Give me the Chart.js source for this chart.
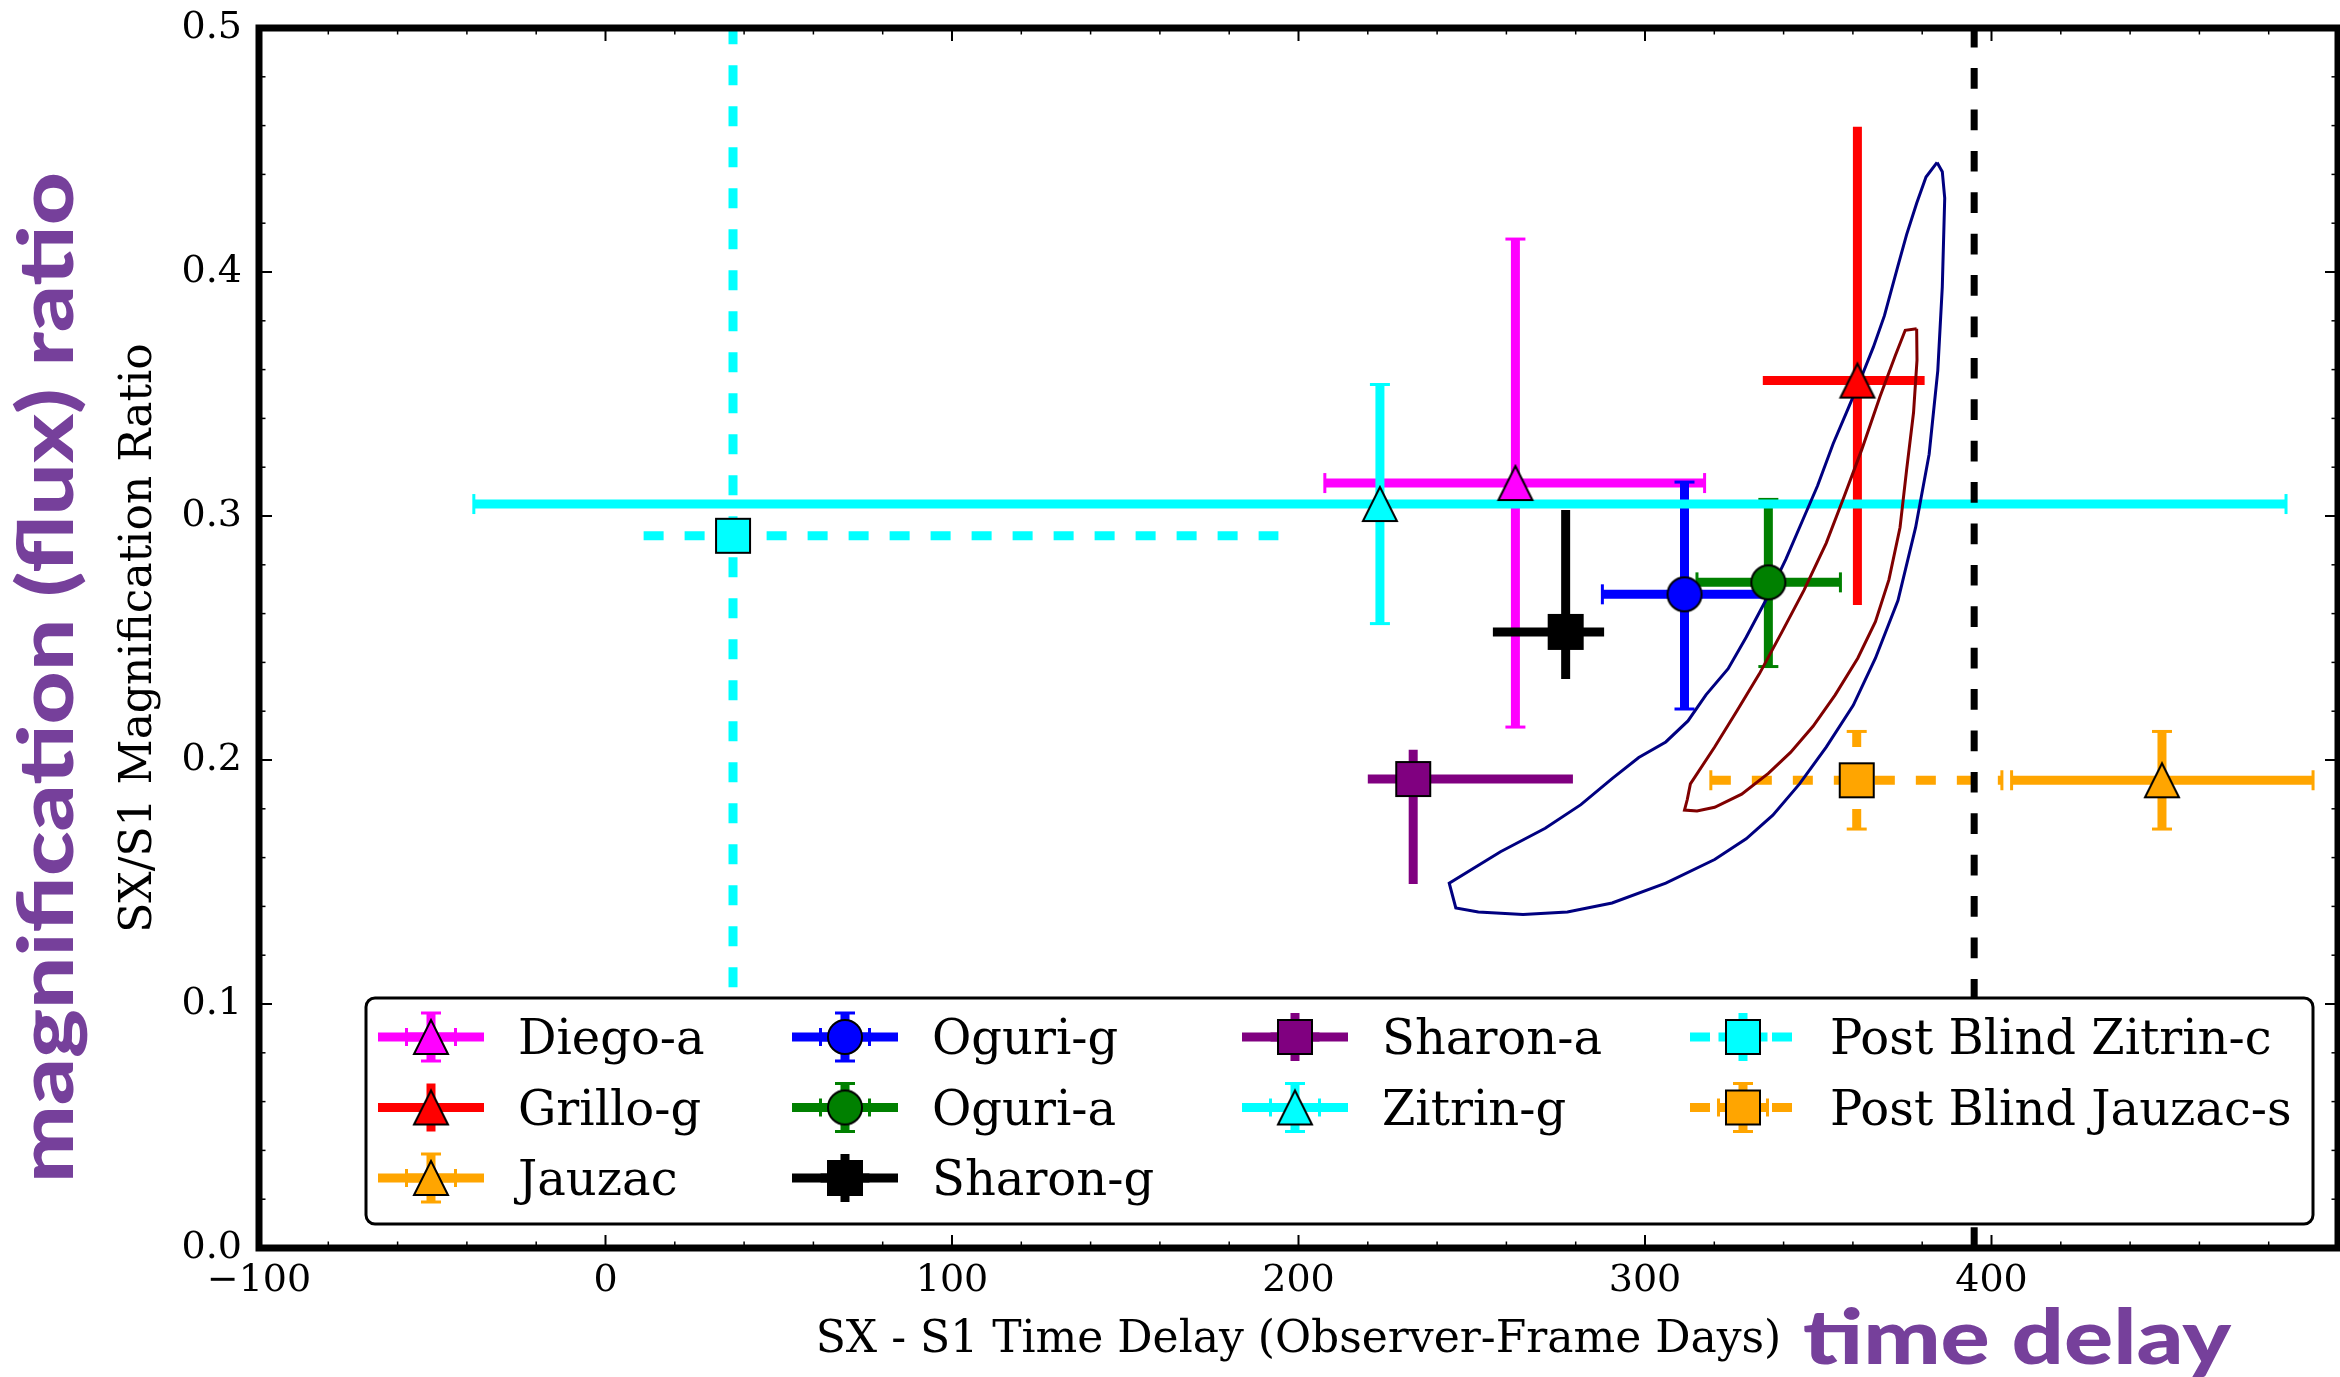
<!DOCTYPE html>
<html>
<head>
<meta charset="utf-8">
<script src="https://cdn.jsdelivr.net/npm/chart.js@4.4.1/dist/chart.umd.min.js"></script>
<style>
  html, body { margin: 0; padding: 0; background: #fff; overflow: hidden; }
  canvas { display: block; }
</style>
</head>
<body>
<canvas id="chart" width="2340" height="1377"></canvas>
<script>
// model predictions: SX - S1 time delay (days) and SX/S1 magnification ratio
const seriesNames = ['Diego-a', 'Grillo-g', 'Jauzac', 'Oguri-g', 'Oguri-a', 'Sharon-g', 'Sharon-a', 'Zitrin-g', 'Post Blind Zitrin-c', 'Post Blind Jauzac-s'];
const timeDelay  = [262.6, 361.3, 449.2, 311.4, 335.6, 277.1, 233.1, 223.5, 36.8, 361.1];
const delayErrLo = [55.0, 27.3, 43.4, 23.7, 20.6, 21.0, 13.1, 261.5, 25.8, 42.1];
const delayErrHi = [54.6, 19.4, 43.6, 23.7, 20.8, 11.1, 46.1, 261.5, 157.4, 41.9];
const magRatio   = [0.3135, 0.3555, 0.1917, 0.2679, 0.2728, 0.2525, 0.1922, 0.3049, 0.2919, 0.1917];
const ratioErrLo = [0.100, 0.092, 0.020, 0.047, 0.0345, 0.0193, 0.043, 0.049, 0.185, 0.020];
const ratioErrHi = [0.100, 0.104, 0.020, 0.046, 0.034, 0.050, 0.012, 0.049, 0.260, 0.020];

// observed delay (vertical dashed line)
const observedDelay = 395;

// measured contours
const outerX = [384.3, 381.1, 378.4, 375.5, 373.0, 369.1, 365.9, 362.6, 358.8, 354.3, 349.8, 345.9, 340.7, 335.6, 329.2, 324.0, 317.6, 312.4, 306.0, 298.2, 290.5, 281.5, 271.2, 258.3, 243.5, 245.4, 251.9, 264.8, 277.6, 290.5, 306.0, 320.1, 329.2, 336.9, 344.6, 352.3, 360.1, 366.5, 373.0, 378.1, 382.0, 384.5, 385.8, 386.5, 385.8];
const outerY = [0.4449, 0.4389, 0.4282, 0.4153, 0.4025, 0.3821, 0.3692, 0.3575, 0.3446, 0.3296, 0.3124, 0.2996, 0.2824, 0.2674, 0.2503, 0.2374, 0.2267, 0.2160, 0.2074, 0.2010, 0.1924, 0.1817, 0.1720, 0.1624, 0.1495, 0.1394, 0.1377, 0.1367, 0.1377, 0.1414, 0.1495, 0.1592, 0.1677, 0.1774, 0.1902, 0.2053, 0.2224, 0.2417, 0.2653, 0.2953, 0.3253, 0.3596, 0.3939, 0.4303, 0.4411];
const innerX = [378.4, 375.1, 372.3, 367.8, 362.6, 357.5, 352.3, 345.9, 339.5, 333.0, 326.6, 320.1, 313.1, 312.2, 311.4, 315.0, 320.1, 327.9, 335.6, 342.0, 348.5, 354.9, 361.4, 366.5, 370.4, 373.6, 375.5, 377.5, 378.5];
const innerY = [0.3767, 0.3761, 0.3660, 0.3489, 0.3274, 0.3081, 0.2889, 0.2696, 0.2524, 0.2353, 0.2203, 0.2053, 0.1902, 0.1838, 0.1795, 0.1791, 0.1806, 0.1860, 0.1945, 0.2031, 0.2138, 0.2267, 0.2417, 0.2567, 0.2739, 0.2953, 0.3189, 0.3424, 0.3639];

const xTicks = [-100, 0, 100, 200, 300, 400];
const yTicks = [0.0, 0.1, 0.2, 0.3, 0.4, 0.5];

// styles
const seriesColors = ['#ff00ff', '#ff0000', '#ffa500', '#0000ff', '#008000', '#000000', '#800080', '#00ffff', '#00ffff', '#ffa500'];
const seriesMarkers = ['^', '^', '^', 'o', 'o', 's', 's', '^', 's', 's'];
const seriesDashed = [false, false, false, false, false, false, false, false, true, true];
const seriesCaps = [true, false, true, true, true, false, false, true, false, true];

const serif = 'DejaVu Serif';
const purple = '#76409b';
const DASH = [20, 21];

function makeMarker(shape, fill) {
  const s = 34;
  const c = document.createElement('canvas');
  c.width = c.height = 40;
  const g = c.getContext('2d');
  const m = 20, h = s / 2;
  g.fillStyle = fill;
  g.strokeStyle = '#000';
  g.lineWidth = 2;
  g.beginPath();
  if (shape === '^') {
    g.moveTo(m, m - h); g.lineTo(m + h, m + h); g.lineTo(m - h, m + h); g.closePath();
  } else if (shape === 'o') {
    g.arc(m, m, h, 0, Math.PI * 2);
  } else {
    g.rect(m - h, m - h, s, s);
  }
  g.fill();
  g.stroke();
  return c;
}
const markerImages = seriesNames.map((n, i) => makeMarker(seriesMarkers[i], seriesColors[i]));

function seg(ctx, x0, y0, x1, y1) {
  ctx.beginPath(); ctx.moveTo(x0, y0); ctx.lineTo(x1, y1); ctx.stroke();
}

// keep the plot box where the reference has it (no extra label padding)
function noPadding(s) {
  s.paddingLeft = 0; s.paddingRight = 0; s.paddingTop = 0; s.paddingBottom = 0;
}

const errorBars = {
  id: 'errorBars',
  beforeDatasetsDraw(chart) {
    const { ctx, chartArea: a, scales: { x, y } } = chart;
    ctx.save();
    ctx.beginPath();
    ctx.rect(a.left, a.top, a.right - a.left, a.bottom - a.top);
    ctx.clip();
    ctx.lineCap = 'butt';
    seriesNames.forEach((name, i) => {
      const px = x.getPixelForValue(timeDelay[i]);
      const py = y.getPixelForValue(magRatio[i]);
      const x0 = x.getPixelForValue(timeDelay[i] - delayErrLo[i]);
      const x1 = x.getPixelForValue(timeDelay[i] + delayErrHi[i]);
      const y0 = y.getPixelForValue(magRatio[i] - ratioErrLo[i]);
      const y1 = y.getPixelForValue(magRatio[i] + ratioErrHi[i]);
      ctx.strokeStyle = seriesColors[i];
      ctx.lineWidth = 9;
      ctx.setLineDash(seriesDashed[i] ? DASH : []);
      seg(ctx, x0, py, x1, py);
      seg(ctx, px, y0, px, y1);
      if (seriesCaps[i]) {
        ctx.setLineDash([]);
        ctx.lineWidth = 3;
        seg(ctx, x0, py - 10, x0, py + 10);
        seg(ctx, x1, py - 10, x1, py + 10);
        seg(ctx, px - 10, y0, px + 10, y0);
        seg(ctx, px - 10, y1, px + 10, y1);
      }
    });
    ctx.restore();
  }
};

const frameAndTicks = {
  id: 'frameAndTicks',
  afterDatasetsDraw(chart) {
    const { ctx, chartArea: a, scales: { x, y } } = chart;
    ctx.save();
    ctx.strokeStyle = '#000';
    for (let v = -100; v <= 500; v += 20) {
      const px = x.getPixelForValue(v);
      const major = v % 100 === 0;
      const len = major ? 13 : 6.5;
      ctx.lineWidth = major ? 2 : 1.5;
      seg(ctx, px, a.bottom, px, a.bottom - len);
      seg(ctx, px, a.top, px, a.top + len);
    }
    for (let k = 0; k <= 25; k++) {
      const py = y.getPixelForValue(k * 0.02);
      const major = k % 5 === 0;
      const len = major ? 13 : 6.5;
      ctx.lineWidth = major ? 2 : 1.5;
      seg(ctx, a.left, py, a.left + len, py);
      seg(ctx, a.right, py, a.right - len, py);
    }
    ctx.lineWidth = 7;
    ctx.strokeRect(a.left, a.top, a.right - a.left, a.bottom - a.top);
    ctx.restore();
  }
};

const boxLegend = {
  id: 'boxLegend',
  afterDraw(chart) {
    const { ctx } = chart;
    const box = { left: 366, top: 998, right: 2313, bottom: 1224 };
    const colX = [65, 479, 929, 1377];
    const rowY = [39, 109.5, 180];
    ctx.save();
    ctx.beginPath();
    ctx.roundRect(box.left, box.top, box.right - box.left, box.bottom - box.top, 9);
    ctx.fillStyle = '#fff';
    ctx.fill();
    ctx.lineWidth = 3;
    ctx.strokeStyle = '#000';
    ctx.stroke();

    const ncol = 4;
    const nrows = Math.ceil(seriesNames.length / ncol);
    const nLarge = seriesNames.length % ncol || ncol;
    let idx = 0;
    for (let c = 0; c < ncol; c++) {
      const rows = c < nLarge ? nrows : nrows - 1;
      for (let r = 0; r < rows; r++, idx++) {
        const cx = box.left + colX[c];
        const cy = box.top + rowY[r];
        ctx.strokeStyle = seriesColors[idx];
        ctx.lineCap = 'butt';
        ctx.lineWidth = 9;
        ctx.setLineDash(seriesDashed[idx] ? DASH : []);
        seg(ctx, cx - 53, cy, cx + 53, cy);
        seg(ctx, cx - 24.5, cy, cx + 24.5, cy);
        seg(ctx, cx, cy + 24, cx, cy - 24);
        if (seriesCaps[idx]) {
          ctx.setLineDash([]);
          ctx.lineWidth = 3;
          seg(ctx, cx - 24.5, cy - 9, cx - 24.5, cy + 9);
          seg(ctx, cx + 24.5, cy - 9, cx + 24.5, cy + 9);
          seg(ctx, cx - 10, cy - 24, cx + 10, cy - 24);
          seg(ctx, cx - 10, cy + 24, cx + 10, cy + 24);
        }
        ctx.setLineDash([]);
        const img = markerImages[idx];
        ctx.drawImage(img, cx - img.width / 2, cy - img.height / 2);
        ctx.fillStyle = '#000';
        ctx.font = '48px "' + serif + '"';
        ctx.textAlign = 'left';
        ctx.textBaseline = 'alphabetic';
        ctx.fillText(seriesNames[idx], cx + 87, cy + 17);
      }
    }
    ctx.restore();

    // large purple annotations
    ctx.save();
    ctx.fillStyle = purple;
    ctx.font = '900 77px Lato';
    ctx.textAlign = 'left';
    ctx.textBaseline = 'alphabetic';
    const fit = (text, x, y, width, rot) => {
      ctx.save();
      ctx.translate(x, y);
      ctx.rotate(rot);
      ctx.scale(width / ctx.measureText(text).width, 1);
      ctx.fillText(text, 0, 0);
      ctx.restore();
    };
    fit('magnification (flux) ratio', 73, 1183, 1011, -Math.PI / 2);
    fit('time delay', 1803, 1364, 428, 0);
    ctx.restore();
  }
};

const closed = (xs, ys) => xs.map((v, i) => ({ x: v, y: ys[i] })).concat([{ x: xs[0], y: ys[0] }]);

const datasets = [
  { label: 'outer', data: closed(outerX, outerY), showLine: true, borderColor: '#000080', borderWidth: 3, pointRadius: 0, tension: 0, order: 2 },
  { label: 'inner', data: closed(innerX, innerY), showLine: true, borderColor: '#800000', borderWidth: 3, pointRadius: 0, tension: 0, order: 2 },
  ...seriesNames.map((name, i) => ({
    label: name,
    data: [{ x: timeDelay[i], y: magRatio[i] }],
    pointStyle: markerImages[i],
    pointRadius: 17,
    order: 0
  })),
  { label: 'observed', data: [{ x: observedDelay, y: 0 }, { x: observedDelay, y: 0.5 }], showLine: true, borderColor: '#000', borderWidth: 7, borderDash: [20.7, 20.7], pointRadius: 0, order: -1 }
];

const chartConfig = {
  type: 'scatter',
  data: { datasets },
  options: {
    responsive: false,
    animation: false,
    devicePixelRatio: 1,
    events: [],
    layout: { autoPadding: false, padding: { left: 0, right: 2, top: 28, bottom: 0 } },
    plugins: { legend: { display: false }, tooltip: { enabled: false } },
    scales: {
      x: {
        type: 'linear',
        min: -100,
        max: 500,
        afterFit(s) { s.height = 129; noPadding(s); },
        afterBuildTicks(s) { s.ticks = xTicks.map(v => ({ value: v })); },
        grid: { display: false, drawTicks: false },
        border: { display: false },
        ticks: {
          color: '#000',
          font: { family: serif, size: 38 },
          padding: 10,
          maxRotation: 0,
          callback: v => String(v).replace('-', '\u2212')
        },
        title: {
          display: true,
          text: 'SX - S1 Time Delay (Observer-Frame Days)',
          color: '#000',
          font: { family: serif, size: 44 },
          padding: { top: 0, bottom: 10 }
        }
      },
      y: {
        type: 'linear',
        min: 0,
        max: 0.5,
        afterFit(s) { s.width = 259; noPadding(s); },
        afterBuildTicks(s) { s.ticks = yTicks.map(v => ({ value: v })); },
        grid: { display: false, drawTicks: false },
        border: { display: false },
        ticks: {
          color: '#000',
          font: { family: serif, size: 38 },
          padding: 17,
          callback: v => Number(v).toFixed(1)
        },
        title: {
          display: true,
          text: 'SX/S1 Magnification Ratio',
          color: '#000',
          font: { family: serif, size: 44 },
          padding: { top: 113, bottom: 0 }
        }
      }
    }
  },
  plugins: [errorBars, frameAndTicks, boxLegend]
};

const myChart = new Chart(document.getElementById('chart'), chartConfig);
</script>
</body>
</html>
